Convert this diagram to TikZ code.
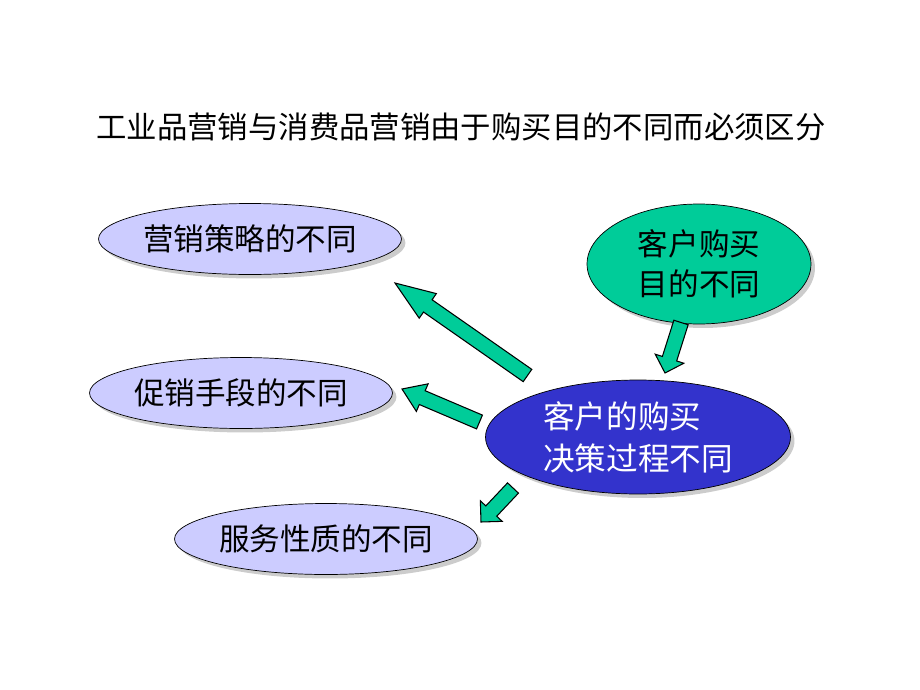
\documentclass[tikz,border=0pt]{standalone}
\usepackage{fontspec}
\newfontfamily\cjk{Noto Sans CJK SC}
\usetikzlibrary{shapes.geometric, shadows, calc}
\usepackage{xcolor}

\definecolor{lavender}{RGB}{204,204,255}
\definecolor{seagreen}{RGB}{0,204,153}
\definecolor{deepblue}{RGB}{51,51,204}

% block arrow: #1 tail, #2 tip, #3 head length
\newcommand\blockarrow[3]{%
  \coordinate (ba-h) at ($(#2)!#3!(#1)$);
  \filldraw[barrow] ($(#1)!0.15cm!90:(#2)$) -- ($(ba-h)!0.15cm!-90:(#1)$)
    -- ($(ba-h)!0.3cm!-90:(#1)$) -- (#2) -- ($(ba-h)!0.3cm!90:(#1)$)
    -- ($(ba-h)!0.15cm!90:(#1)$) -- ($(#1)!0.15cm!-90:(#2)$) -- cycle;
}

\begin{document}
\begin{tikzpicture}[x=0.02cm, y=-0.02cm, font=\cjk]
    % Styles
    \tikzstyle{oval} = [ellipse, draw, inner sep=0pt, minimum width=6.06cm, minimum height=1.42cm, fill=lavender,
        drop shadow={shadow xshift=0.08cm, shadow yshift=-0.08cm, fill=black!40}, font=\cjk\fontsize{17.4}{23}\selectfont]
    \tikzstyle{barrow} = [draw=black, fill=seagreen, line width=0.6pt, line join=miter]

    \useasboundingbox (0,0) rectangle (920,690);

    % Title
    \node (title) at (461,127) {\fontsize{17.3}{20}\selectfont 工业品营销与消费品营销由于购买目的不同而必须区分};

    % Nodes
    \node [oval] (strategy) at (250,239) {营销策略的不同};
    \node [oval] (promo) at (241,393) {促销手段的不同};
    \node [oval] (service) at (326,539) {服务性质的不同};
    \node [oval, fill=seagreen, minimum width=4.48cm, minimum height=2.4cm, align=center] (purpose) at (699,264) {客户购买\\目的不同};
    \node [oval, fill=deepblue, minimum width=6.1cm, minimum height=2.28cm, align=left, text=white,
        font=\cjk\fontsize{18}{24}\selectfont] (decision) at (638,437) {客户的购买\\决策过程不同};

    % Arrow ends
    \coordinate (t1) at (527.5,375.5);  \coordinate (h1) at (395,283);
    \coordinate (t2) at (479.5,422);    \coordinate (h2) at (402,389);
    \coordinate (t3) at (513,488);      \coordinate (h3) at (481,522);
    \coordinate (t4) at (681,322.5);    \coordinate (h4) at (665,373);

    % Edges
    \blockarrow{t1}{h1}{0.8cm}
    \blockarrow{t2}{h2}{0.44cm}
    \blockarrow{t3}{h3}{0.3cm}
    \blockarrow{t4}{h4}{0.3cm}
\end{tikzpicture}
\end{document}
